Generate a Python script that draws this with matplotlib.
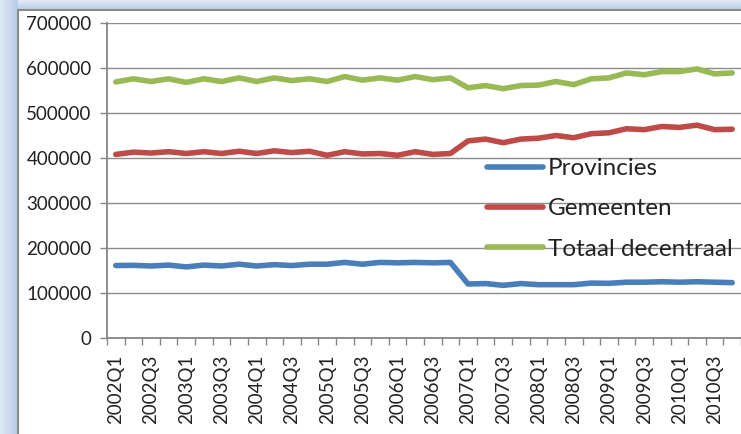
import numpy as np
import matplotlib
matplotlib.use('Agg')
import matplotlib.pyplot as plt
from matplotlib.patches import Rectangle

plt.rcParams['font.family'] = ['Lato', 'DejaVu Sans']

# Quarterly values 2002Q1 - 2010Q4
quarters = [f'{y}Q{q}' for y in range(2002, 2011) for q in range(1, 5)]
provincies = [161000, 161500, 160000, 162000, 158000, 162000, 160000, 164000, 160000, 163000,
              161000, 164000, 164000, 168000, 164000, 168000, 167000, 168000, 167000, 168000,
              120000, 121000, 117000, 121000, 118500, 118500, 118500, 122000, 121500, 124000,
              124000, 125000, 124000, 125000, 124000, 123000]
gemeenten = [408000, 413000, 411000, 414000, 410000, 414000, 410000, 415000, 410000, 416000,
             412000, 415000, 406000, 414000, 409000, 410000, 406000, 414000, 408000, 410000,
             438000, 442000, 434000, 442000, 444000, 450000, 445000, 454000, 456000, 465000,
             463000, 470000, 468000, 473000, 463000, 464000]
totaal = [569000, 576000, 570000, 576000, 568000, 576000, 570000, 578000, 570000, 578000,
          572000, 576000, 570000, 581000, 573000, 578000, 573000, 581000, 574000, 578000,
          556000, 561000, 554000, 561000, 562000, 570000, 563000, 576000, 578000, 589000,
          585000, 592000, 592000, 598000, 587000, 589000]

W, H = 741, 434
fig = plt.figure(figsize=(W / 100, H / 100), dpi=100)

# Excel-like window frame: pale blue gradient on left and top edges
bg = fig.add_axes([0, 0, 1, 1], zorder=-10)
img = np.ones((H, W, 3))
blue = np.array([0.72, 0.80, 0.91])
for x in range(18):
    t = 0.25 + 0.75 * x / 17
    img[:, x] = (1 - t) * np.array([0.93, 0.95, 0.98]) + t * blue
for y in range(10):
    t = 0.25 + 0.75 * y / 9
    img[y, 18:] = (1 - t) * np.array([0.93, 0.95, 0.98]) + t * blue
bg.imshow(img, extent=[0, W, H, 0], aspect='auto', interpolation='bilinear')
bg.add_patch(Rectangle((18, 10), W, H, facecolor='white', edgecolor='#8a8a8a', lw=1.5))
bg.set_xlim(0, W)
bg.set_ylim(H, 0)
bg.axis('off')

ax = fig.add_axes([107 / W, 96 / H, 1 - 107 / W, 315 / H])
ax.set_facecolor('none')
x = np.arange(len(quarters))
style = dict(lw=4.0, solid_capstyle='round', solid_joinstyle='round')
ax.plot(x, provincies, color='#4A7EBB', label='Provincies', **style)
ax.plot(x, gemeenten, color='#BE4B48', label='Gemeenten', **style)
ax.plot(x, totaal, color='#98B954', label='Totaal decentraal', **style)

ax.set_ylim(0, 700000)
ax.set_yticks(range(0, 700001, 100000))
ax.set_yticklabels([str(v) for v in range(0, 700001, 100000)])
ax.set_xlim(-0.5, len(quarters) - 0.5)
ax.set_xticks(np.arange(-0.5, len(quarters), 1.0))
ax.set_xticklabels([])
ax.set_xticks(x[::2], minor=True)
ax.set_xticklabels(quarters[::2], minor=True, rotation=90, va='top', ha='center')

ax.grid(axis='y', color='#8c8c8c', lw=1.0)
ax.set_axisbelow(True)
for s in ['top', 'right']:
    ax.spines[s].set_visible(False)
for s in ['left', 'bottom']:
    ax.spines[s].set_color('#868686')
    ax.spines[s].set_linewidth(1.3)
ax.tick_params(axis='y', length=5, color='#868686', width=1, labelsize=13.5, labelcolor='#222222', pad=6)
ax.tick_params(axis='x', which='major', length=5, color='#868686', width=1)
ax.tick_params(axis='x', which='minor', length=0, labelsize=13.5, labelcolor='#222222', pad=12)

leg = ax.legend(loc='upper left', bbox_to_anchor=((487 - 107) / 634, (338 - 158) / 315),
                frameon=False, fontsize=17.5, handlelength=2.3, handletextpad=0.2,
                labelspacing=0.8, borderpad=0, borderaxespad=0)
for t in leg.get_texts():
    t.set_color('#222222')

fig.savefig('out.png', dpi=100)
